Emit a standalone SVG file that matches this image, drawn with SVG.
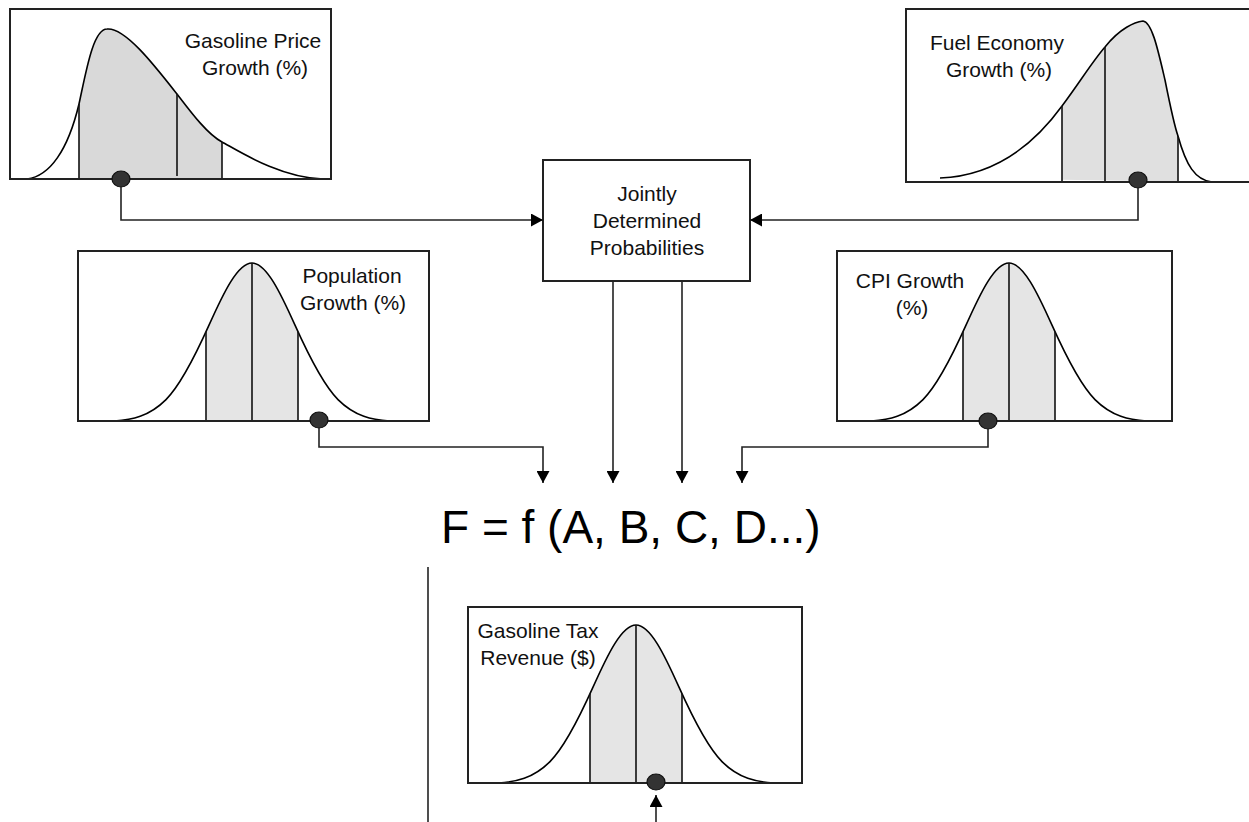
<svg xmlns="http://www.w3.org/2000/svg" width="1249" height="822" viewBox="0 0 1249 822">
<style>
.box{fill:#fff;stroke:#222;stroke-width:2}
.curve{fill:none;stroke:#000;stroke-width:1.6}
.div{stroke:#111;stroke-width:1.6}
.dot{fill:#333;stroke:#111;stroke-width:1.2}
.lbl{font-family:"Liberation Sans",Arial,sans-serif;font-size:21px;fill:#111;text-anchor:middle}
.conn{fill:none;stroke:#222;stroke-width:1.6}
</style>
<defs>
<marker id="arr" markerUnits="userSpaceOnUse" markerWidth="13" markerHeight="13" refX="12" refY="6.5" orient="auto">
<path d="M0,0 L12,6.5 L0,13 Z" fill="#000"/>
</marker>
<clipPath id="midClip" clipPathUnits="userSpaceOnUse"><rect x="-46" y="-170" width="92" height="170"/></clipPath>
<g id="bell">
<path d="M-137.6,0 C-120.4,-1.2 -103.2,-4.27 -86,-21.4 C-71.67,-35.6 -57.33,-63.9 -43,-95.8 C-28.67,-127.8 -14.33,-158 0,-158 C14.33,-158 28.67,-127.8 43,-95.8 C57.33,-63.9 71.67,-35.6 86,-21.4 C103.2,-4.27 120.4,-1.2 137.6,0 Z" fill="#e5e5e5" stroke="none" clip-path="url(#midClip)"/>
<path class="curve" d="M-137.6,0 C-120.4,-1.2 -103.2,-4.27 -86,-21.4 C-71.67,-35.6 -57.33,-63.9 -43,-95.8 C-28.67,-127.8 -14.33,-158 0,-158 C14.33,-158 28.67,-127.8 43,-95.8 C57.33,-63.9 71.67,-35.6 86,-21.4 C103.2,-4.27 120.4,-1.2 137.6,0"/>
<line class="div" x1="-46" y1="-89" x2="-46" y2="0"/>
<line class="div" x1="0" y1="-158" x2="0" y2="0"/>
<line class="div" x1="46" y1="-89" x2="46" y2="0"/>
</g>
<clipPath id="gasClip"><rect x="79" y="0" width="143" height="180"/></clipPath>
<clipPath id="fuelClip"><rect x="1062" y="0" width="116" height="183"/></clipPath>
</defs>

<g id="gasoline-price">
<rect class="box" x="10" y="9" width="321" height="170"/>
<path d="M27,179 C50,176 68,150 79,104 C86,72 93,29 107,29 C125,27 155,66 177,94 C190,111 207,134 222,142 C237,150 280,178 323,179 Z" fill="#d9d9d9" clip-path="url(#gasClip)"/>
<path class="curve" d="M27,179 C50,176 68,150 79,104 C86,72 93,29 107,29 C125,27 155,66 177,94 C190,111 207,134 222,142 C237,150 280,178 323,179"/>
<line class="div" x1="79" y1="104" x2="79" y2="179"/>
<line class="div" x1="177" y1="94" x2="177" y2="176"/>
<line class="div" x1="222" y1="142" x2="222" y2="179"/>
<line class="box" x1="10" y1="179" x2="331" y2="179"/>
<ellipse class="dot" cx="121" cy="179" rx="9" ry="8"/>
<text class="lbl" x="253" y="48">Gasoline Price</text>
<text class="lbl" x="255" y="75">Growth (%)</text>
</g>

<g id="fuel-economy">
<rect class="box" x="906" y="9" width="346" height="173"/>
<path d="M940,178 C990,176 1030,150 1062,106 C1080,82 1092,62 1105,47 C1120,28 1135,22 1143,21 C1152,22 1158,50 1165,80 C1170,105 1174,125 1178,136 C1186,165 1195,180 1212,182 Z" fill="#e0e0e0" clip-path="url(#fuelClip)"/>
<path class="curve" d="M940,178 C990,176 1030,150 1062,106 C1080,82 1092,62 1105,47 C1120,28 1135,22 1143,21 C1152,22 1158,50 1165,80 C1170,105 1174,125 1178,136 C1186,165 1195,180 1212,182"/>
<line class="div" x1="1062" y1="106" x2="1062" y2="182"/>
<line class="div" x1="1105" y1="47" x2="1105" y2="182"/>
<line class="div" x1="1178" y1="136" x2="1178" y2="182"/>
<line class="box" x1="906" y1="182" x2="1249" y2="182"/>
<ellipse class="dot" cx="1138" cy="180" rx="9" ry="8"/>
<text class="lbl" x="997" y="50">Fuel Economy</text>
<text class="lbl" x="999" y="77">Growth (%)</text>
</g>

<g id="jointly">
<rect class="box" x="543" y="160" width="207" height="121"/>
<text class="lbl" x="647" y="201">Jointly</text>
<text class="lbl" x="647" y="228">Determined</text>
<text class="lbl" x="647" y="255">Probabilities</text>
</g>

<g id="population">
<rect class="box" x="78" y="251" width="351" height="170"/>
<use href="#bell" transform="translate(252,421)"/>
<line class="box" x1="78" y1="421" x2="429" y2="421"/>
<ellipse class="dot" cx="319" cy="420" rx="9" ry="8"/>
<text class="lbl" x="352" y="283">Population</text>
<text class="lbl" x="353" y="310">Growth (%)</text>
</g>

<g id="cpi">
<rect class="box" x="837" y="251" width="335" height="170"/>
<use href="#bell" transform="translate(1009,421)"/>
<line class="box" x1="837" y1="421" x2="1172" y2="421"/>
<ellipse class="dot" cx="988" cy="421" rx="9" ry="8"/>
<text class="lbl" x="910" y="288">CPI Growth</text>
<text class="lbl" x="912" y="315">(%)</text>
</g>

<g id="formula">
<text x="441" y="543" font-family="Liberation Sans, Arial, sans-serif" font-size="46" fill="#000">F = f (A, B, C, D...)</text>
</g>

<g id="tax-revenue">
<rect class="box" x="468" y="607" width="334" height="176"/>
<use href="#bell" transform="translate(636,783)"/>
<line class="box" x1="468" y1="783" x2="802" y2="783"/>
<ellipse class="dot" cx="656" cy="782" rx="9" ry="8"/>
<text class="lbl" x="538" y="638">Gasoline Tax</text>
<text class="lbl" x="538" y="665">Revenue ($)</text>
</g>

<line class="conn" x1="428" y1="567" x2="428" y2="822"/>

<g id="connectors">
<path class="conn" d="M121,187 V220 H543" marker-end="url(#arr)"/>
<path class="conn" d="M1138,188 V220 H750" marker-end="url(#arr)"/>
<path class="conn" d="M613,281 V483" marker-end="url(#arr)"/>
<path class="conn" d="M682,281 V483" marker-end="url(#arr)"/>
<path class="conn" d="M319,428 V447 H543 V483" marker-end="url(#arr)"/>
<path class="conn" d="M988,429 V447 H742 V483" marker-end="url(#arr)"/>
<path class="conn" d="M656,822 V795" marker-end="url(#arr)"/>
</g>
</svg>
